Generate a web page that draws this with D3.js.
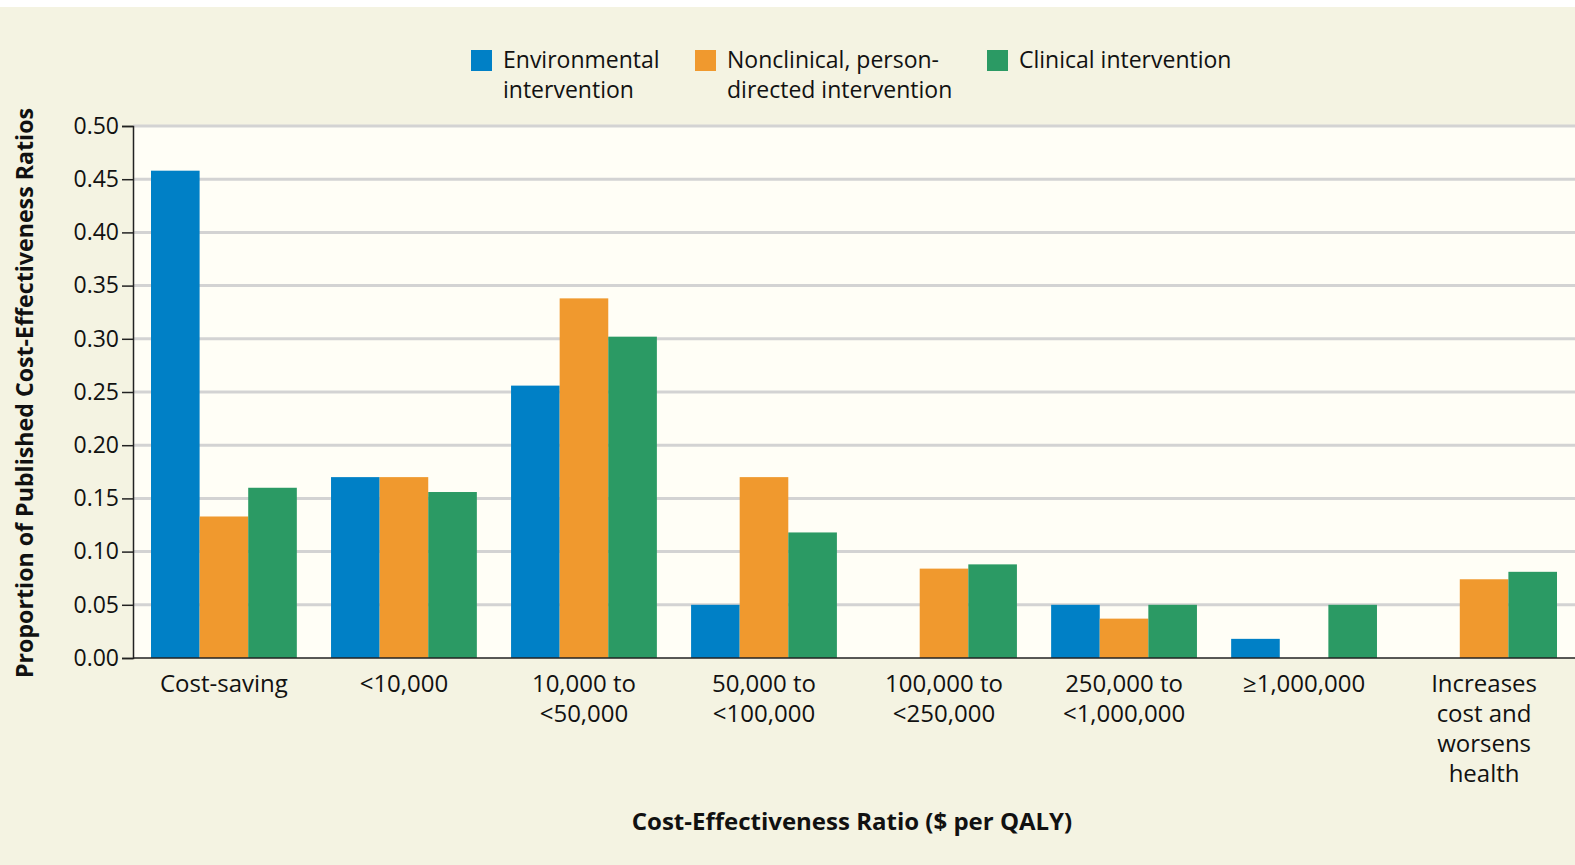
<!DOCTYPE html>
<html>
<head>
<meta charset="utf-8">
<script src="https://cdn.jsdelivr.net/npm/d3@7"></script>
<style>
  html, body { margin: 0; padding: 0; background: #ffffff; }
  svg { display: block; }
  text { font-family: "Open Sans", "DejaVu Sans", sans-serif; fill: #111; }
</style>
</head>
<body>
<script>
const categories = [
  ["Cost-saving"],
  ["<10,000"],
  ["10,000 to", "<50,000"],
  ["50,000 to", "<100,000"],
  ["100,000 to", "<250,000"],
  ["250,000 to", "<1,000,000"],
  ["\u22651,000,000"],
  ["Increases", "cost and", "worsens", "health"]
];
const seriesNames = [
  ["Environmental", "intervention"],
  ["Nonclinical, person-", "directed intervention"],
  ["Clinical intervention"]
];
const seriesColors = ["#0080c6", "#f0992e", "#2b9a64"];
const environmental = [0.458, 0.170, 0.256, 0.050, 0.000, 0.050, 0.018, 0.000];
const nonclinical   = [0.133, 0.170, 0.338, 0.170, 0.084, 0.037, 0.000, 0.074];
const clinical      = [0.160, 0.156, 0.302, 0.118, 0.088, 0.050, 0.050, 0.081];
const yTicks = [0, 0.05, 0.10, 0.15, 0.20, 0.25, 0.30, 0.35, 0.40, 0.45, 0.50];

const W = 1575, H = 865;
const mLeft = 133, mRight = 1575, mTop = 126, mBottom = 658;

const svg = d3.select("body").append("svg").attr("width", W).attr("height", H);
svg.append("rect").attr("x", 0).attr("y", 0).attr("width", W).attr("height", H).attr("fill", "#ffffff");
svg.append("rect").attr("x", 0).attr("y", 7).attr("width", W).attr("height", H - 7).attr("fill", "#f4f3e2");

const y = d3.scaleLinear().domain([0, 0.5]).range([mBottom, mTop]);
const x0 = d3.scaleBand().domain(d3.range(categories.length)).range([mLeft, mRight])
  .paddingInner(0.19).paddingOuter(0.1);
const x1 = d3.scaleBand().domain([0, 1, 2]).range([0, x0.bandwidth()]).padding(0);

// plot background
svg.append("rect").attr("x", mLeft).attr("y", mTop).attr("width", mRight - mLeft).attr("height", mBottom - mTop)
  .attr("fill", "#fffef6");

// gridlines
svg.append("g").selectAll("line").data(yTicks.filter(d => d > 0)).join("line")
  .attr("x1", mLeft).attr("x2", mRight)
  .attr("y1", d => y(d)).attr("y2", d => y(d))
  .attr("stroke", "#d3d3d3").attr("stroke-width", 3);

// bars
const seriesData = [environmental, nonclinical, clinical];
const groups = svg.append("g").selectAll("g").data(categories).join("g")
  .attr("transform", (d, i) => `translate(${x0(i)},0)`);
groups.selectAll("rect").data((d, i) => seriesData.map((s, k) => ({ k, v: s[i] })).filter(e => e.v > 0))
  .join("rect")
  .attr("x", d => x1(d.k)).attr("width", x1.bandwidth())
  .attr("y", d => y(d.v)).attr("height", d => y(0) - y(d.v))
  .attr("fill", d => seriesColors[d.k]);

// y axis
const yAxis = d3.axisLeft(y).tickValues(yTicks).tickFormat(d3.format(".2f")).tickSize(11).tickPadding(3);
const ya = svg.append("g").attr("transform", `translate(${mLeft},0)`).call(yAxis);
ya.select(".domain").attr("stroke", "#222").attr("stroke-width", 1.5);
ya.selectAll(".tick line").attr("stroke", "#222").attr("stroke-width", 1.5);
ya.selectAll(".tick text").attr("font-size", 23).attr("fill", "#111")
  .attr("font-family", "'Open Sans', sans-serif");

// x baseline
svg.append("line").attr("x1", mLeft).attr("x2", mRight).attr("y1", y(0)).attr("y2", y(0))
  .attr("stroke", "#222").attr("stroke-width", 1.5);

// x category labels
const xl = svg.append("g").selectAll("text").data(categories).join("text")
  .attr("x", (d, i) => x0(i) + x0.bandwidth() / 2)
  .attr("y", 692)
  .attr("text-anchor", "middle").attr("font-size", 24);
xl.selectAll("tspan").data(d => d).join("tspan")
  .attr("x", function () { return d3.select(this.parentNode).attr("x"); })
  .attr("dy", (d, i) => i === 0 ? 0 : 30)
  .text(d => d);

// axis titles
svg.append("text").attr("x", 852).attr("y", 830).attr("text-anchor", "middle")
  .attr("font-size", 24).attr("font-weight", "bold").text("Cost-Effectiveness Ratio ($ per QALY)");
svg.append("text").attr("transform", `translate(33,${(mTop + mBottom) / 2 + 1}) rotate(-90)`)
  .attr("text-anchor", "middle").attr("font-size", 23.2).attr("font-weight", "bold")
  .text("Proportion of Published Cost-Effectiveness Ratios");

// legend
const legendX = [471, 695, 987];
const lg = svg.append("g").selectAll("g").data(seriesNames).join("g")
  .attr("transform", (d, i) => `translate(${legendX[i]},50)`);
lg.append("rect").attr("width", 21).attr("height", 21).attr("fill", (d, i) => seriesColors[i]);
const lt = lg.append("text").attr("x", 32).attr("y", 18).attr("font-size", 23);
lt.selectAll("tspan").data(d => d).join("tspan").attr("x", 32)
  .attr("dy", (d, i) => i === 0 ? 0 : 30).text(d => d);
</script>
</body>
</html>
